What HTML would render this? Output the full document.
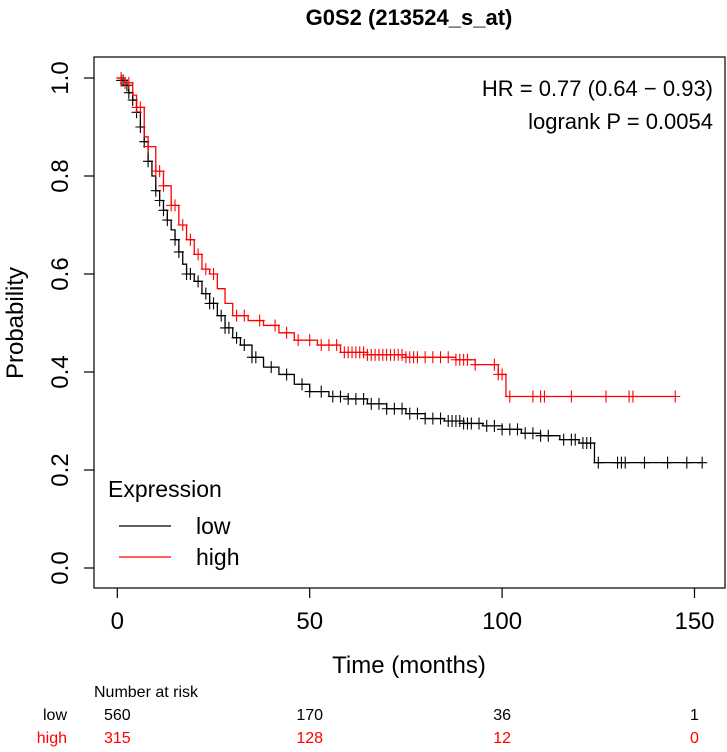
<!DOCTYPE html>
<html><head><meta charset="utf-8"><style>
body{margin:0;background:#fff}
svg text{font-family:"Liberation Sans",sans-serif}
</style></head><body>
<svg id="chart" width="727" height="747" viewBox="0 0 727 747" xmlns="http://www.w3.org/2000/svg">
<text x="409" y="25" font-size="22" font-weight="bold" text-anchor="middle">G0S2 (213524_s_at)</text>
<rect x="94" y="57" width="631" height="531" fill="none" stroke="#000" stroke-width="1.2"/>
<g id="axes"></g>
<g id="curves"></g>
<text x="713" y="96" font-size="22" text-anchor="end">HR = 0.77 (0.64 − 0.93)</text>
<text x="713" y="129" font-size="22" text-anchor="end">logrank P = 0.0054</text>
<text x="108" y="497" font-size="23">Expression</text>
<line x1="119" y1="526" x2="171" y2="526" stroke="#000" stroke-width="1.2"/>
<text x="196" y="534" font-size="23">low</text>
<line x1="119" y1="557" x2="171" y2="557" stroke="#f00" stroke-width="1.2"/>
<text x="196" y="565" font-size="23">high</text>
<text transform="translate(23,323) rotate(-90)" font-size="24" text-anchor="middle">Probability</text>
<text x="409" y="673" font-size="24" text-anchor="middle">Time (months)</text>
<text x="94" y="697" font-size="16">Number at risk</text>
<text x="67" y="720" font-size="16" text-anchor="end">low</text>
<text x="67" y="743" font-size="16" text-anchor="end" fill="#f00">high</text>
<g id="risk"></g>
</svg>
<script>
const xTicks=[0,50,100,150];
const yTicks=[0.0,0.2,0.4,0.6,0.8,1.0];
const lowTimes=[0,1,2,3,4,5,6,7,8,9,10,11,12,13,14,15,16,17,18,20,22,24,26,28,30,32,35,38,42,46,50,55,60,65,70,75,80,85,90,95,100,105,110,115,120,124];
const lowSurv=[1,0.995,0.985,0.97,0.955,0.93,0.9,0.87,0.83,0.8,0.77,0.75,0.73,0.71,0.69,0.67,0.645,0.62,0.6,0.585,0.56,0.54,0.515,0.49,0.47,0.455,0.43,0.41,0.395,0.375,0.36,0.35,0.345,0.335,0.325,0.315,0.305,0.3,0.295,0.29,0.283,0.275,0.27,0.262,0.255,0.215];
const lowEnd=152;
const highTimes=[0,2,4,5,7,8,10,12,14,16,18,20,22,24,26,28,30,34,38,42,46,52,58,65,75,88,93,99,101];
const highSurv=[1,0.99,0.965,0.94,0.88,0.86,0.81,0.78,0.74,0.7,0.67,0.64,0.61,0.6,0.57,0.54,0.515,0.505,0.495,0.48,0.465,0.455,0.44,0.435,0.43,0.425,0.415,0.395,0.35];
const highEnd=145;
const lowCensor=[1,1.5,2.5,3,4,5,6,7,8,10,11,12,13,15,16,18,19,21,23,24,25,27,28,29,31,33,35,36,40,44,48,50,53,56,58,60,62,64,66,68,70,72,74,76,78,80,82,84,86,87,88,89,90,91,92,94,96,98,100,102,104,106,108,110,112,116,118,119,121,122,123,125,130,131,132,137,143,148,152];
const highCensor=[1,2,3,5,6,8,10,11,12,14,15,17,19,21,23,25,31,33,37,41,44,47,50,53,55,57,59,60,61,62,63,64,65,66,67,68,69,70,71,72,73,74,75,76,77,78,80,82,84,86,88,89,90,91,93,98,99,100,102,108,110,111,118,127,133,134,145];
const riskLow=[560,170,36,1];
const riskHigh=[315,128,12,0];
const riskTimes=[0,50,100,150];

const NS="http://www.w3.org/2000/svg";
const X=t=>117.3+t*3.848;
const Y=p=>568-p*490;
function mk(tag,attrs,parent,txt){const e=document.createElementNS(NS,tag);for(const k in attrs)e.setAttribute(k,attrs[k]);if(txt!==undefined)e.textContent=txt;parent.appendChild(e);return e;}
const axes=document.getElementById('axes');
xTicks.forEach(t=>{
 const l=mk('line',{x1:X(t),x2:X(t),y1:588,y2:598,stroke:'#000','stroke-width':1.2},axes);
 
 
 const s=mk('text',{x:X(t),y:629,'font-size':24,'text-anchor':'middle'},axes,String(t));
 
 
});
yTicks.forEach(p=>{
 const l=mk('line',{x1:84,x2:94,y1:Y(p),y2:Y(p),stroke:'#000','stroke-width':1.2},axes);
 
 
 const s=mk('text',{transform:`translate(68,${Y(p)}) rotate(-90)`,'font-size':24,'text-anchor':'middle'},axes,p.toFixed(1));
 
 
});
const curves=document.getElementById('curves');
function survAt(ts,ss,t){let v=ss[0];for(let i=0;i<ts.length;i++){if(ts[i]<=t)v=ss[i];}return v;}
function draw(ts,ss,end,cens,color,name){
 let d=`M${X(ts[0])},${Y(ss[0])}`;
 for(let i=1;i<ts.length;i++){d+=` H${X(ts[i])} V${Y(ss[i])}`;}
 d+=` H${X(end)}`;
 const p=mk('path',{d:d,fill:'none',stroke:color,'stroke-width':1.3},curves);
 
 
 cens.forEach(t=>{
  const y=Y(survAt(ts,ss,t)),x=X(t);
  const c=mk('path',{d:`M${x-5},${y} H${x+5} M${x},${y-6} V${y+6}`,stroke:color,'stroke-width':1.1},curves);
  
  
 });
}
draw(lowTimes,lowSurv,lowEnd,lowCensor,'#000','low');
draw(highTimes,highSurv,highEnd,highCensor,'#f00','high');
const risk=document.getElementById('risk');
riskTimes.forEach((t,i)=>{
 const a=mk('text',{x:X(t),y:720,'font-size':16,'text-anchor':'middle'},risk,String(riskLow[i]));
 
 
 const b=mk('text',{x:X(t),y:743,'font-size':16,'text-anchor':'middle',fill:'#f00'},risk,String(riskHigh[i]));
 
 
});
</script>
</body></html>
